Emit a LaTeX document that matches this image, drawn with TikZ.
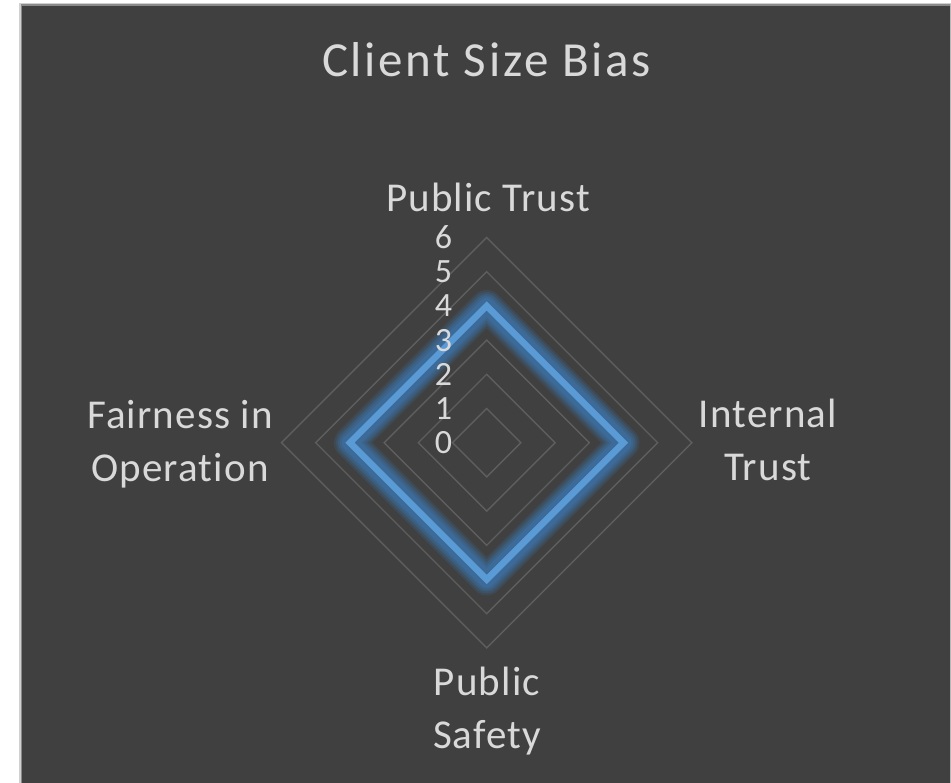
\documentclass[tikz,border=0pt]{standalone}
\usepackage{fontspec}
\setmainfont{Carlito}[RawFeature=-liga]
\newfontfamily\titlefont{Carlito}[RawFeature=-liga, LetterSpace=5.5]
\newfontfamily\axisfont{Carlito}[RawFeature=-liga, LetterSpace=2.8]
\usetikzlibrary{calc}
\definecolor{bgdark}{HTML}{404040}
\definecolor{frameA}{HTML}{D0D0D0}
\definecolor{frameB}{HTML}{8A8A8A}
\definecolor{frameR}{HTML}{B8B8B8}
\definecolor{txt}{HTML}{D9D9D9}
\definecolor{gridc}{HTML}{5E5E5E}
\definecolor{serie}{HTML}{5B9BD5}
\definecolor{glowc}{HTML}{3C76AE}
\tikzset{
  gridring/.style={draw=gridc, line width=1.4pt, line join=miter},
  glowline/.style={draw=glowc, line join=round, line cap=round},
  dataline/.style={draw=serie, line width=6.5pt, line join=miter},
  ticklbl/.style={text=txt, anchor=east, inner sep=0pt, font=\fontsize{34}{40}\selectfont},
  axislbl/.style={text=txt, inner sep=0pt, align=center, font=\axisfont\fontsize{41}{53}\selectfont},
  titlelbl/.style={text=txt, inner sep=0pt, font=\titlefont\fontsize{49}{58}\selectfont},
}
\begin{document}
\begin{tikzpicture}[x=1pt,y=-1pt]
\useasboundingbox (0,0) rectangle (951,783);
% background and frame
\fill[white] (0,0) rectangle (951,783);
\fill[frameA] (19,3) rectangle (951,783);
\fill[frameB] (20.5,4.5) rectangle (951,783);
\fill[bgdark] (22,6) rectangle (949.5,783);
\fill[frameR] (949.5,4.5) rectangle (951,783);
% centre and step
\coordinate (c) at (486.7,442.7);
\def\stp{34.2}
% grid rings
\foreach \r in {1,...,6}{
  \draw[gridring] ($(c)+(0,-\r*\stp)$) -- ($(c)+(\r*\stp,0)$) -- ($(c)+(0,\r*\stp)$) -- ($(c)+(-\r*\stp,0)$) -- cycle;
}
% data vertices (all 4)
\coordinate (pt) at ($(c)+(0,-4*\stp)$);
\coordinate (it) at ($(c)+(4*\stp,0)$);
\coordinate (ps) at ($(c)+(0,4*\stp)$);
\coordinate (fo) at ($(c)+(-4*\stp,0)$);
% glow
\foreach \w/\o in {32/0.18,28/0.22,24/0.28,20/0.34,16/0.4}{
  \draw[glowline, line width=\w pt, opacity=\o] (pt) -- (it) -- (ps) -- (fo) -- cycle;
}
\draw[dataline] (pt) -- (it) -- (ps) -- (fo) -- cycle;
% tick labels
\foreach \r in {0,...,6}{
  \node[ticklbl] (t\r) at ($(c)+(-34.5,-\r*\stp)$) {\r};
}
% axis labels
\node[axislbl, anchor=base] (lpt) at (488,211.7) {Public Trust};
\node[axislbl] (lit) at (768,440) {Internal\\Trust};
\node[axislbl] (lfo) at (180,444) {Fairness in\\Operation};
\node[axislbl] (lps) at (487,711) {Public\\Safety};
% title
\node[titlelbl, anchor=base] (title) at (486.5,76.7) {Client Size Bias};
\end{tikzpicture}
\end{document}
